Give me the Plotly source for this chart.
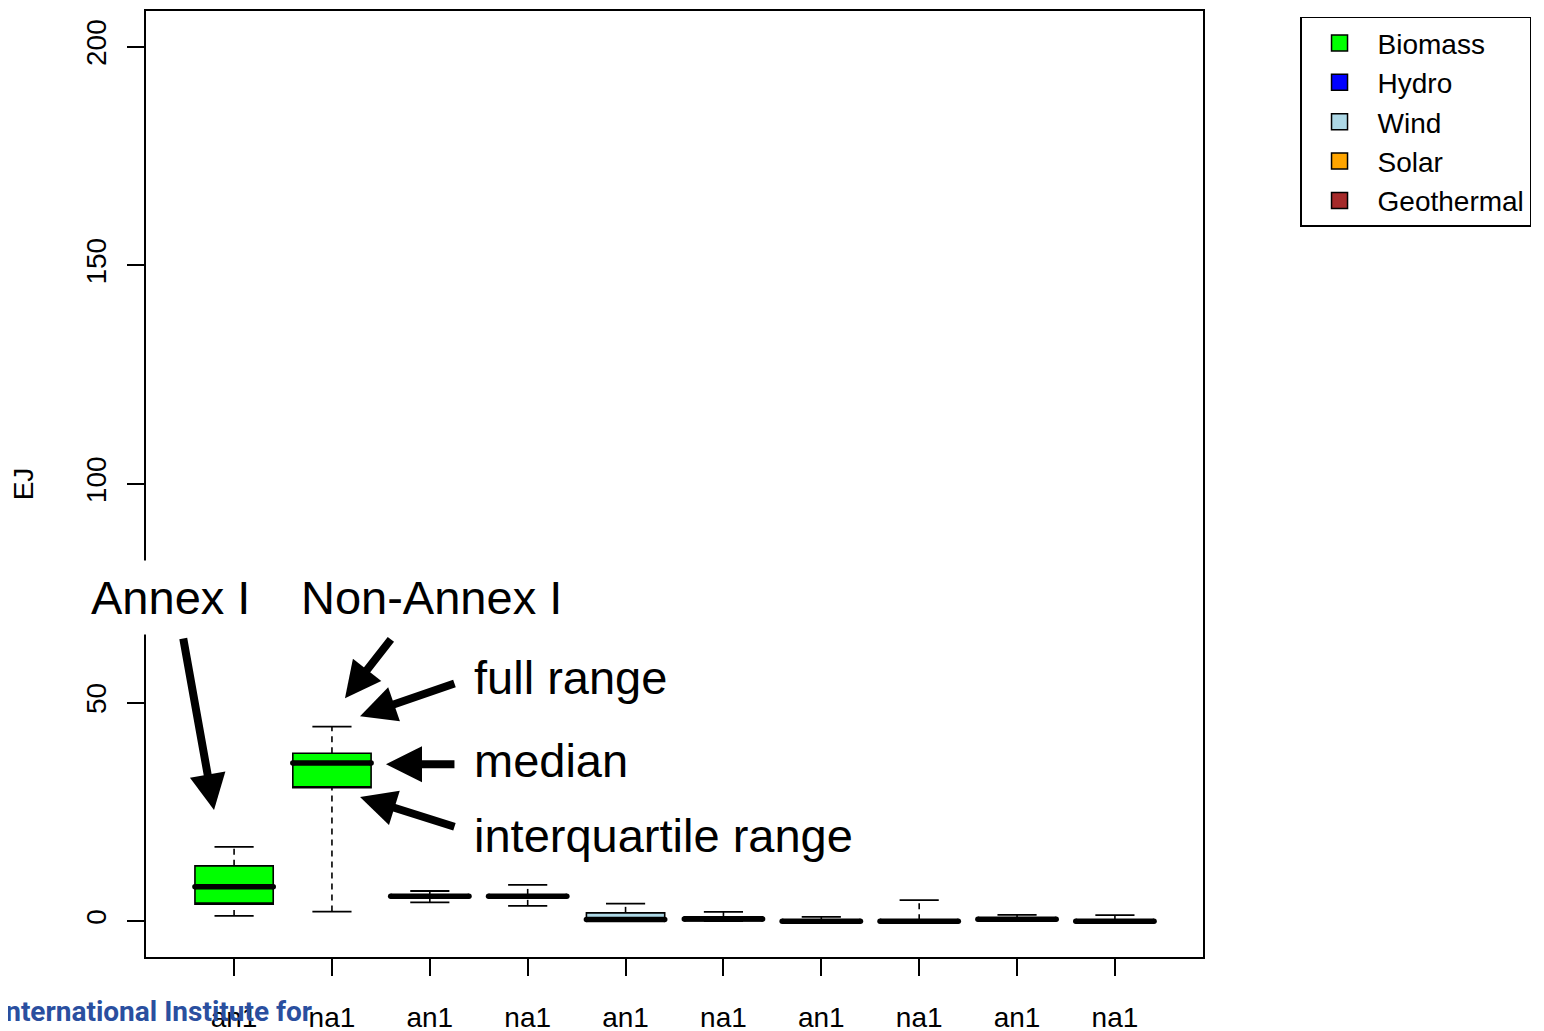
import plotly.graph_objects as go

# ---------------- data ----------------
categories = ["an1", "na1", "an1", "na1", "an1", "na1", "an1", "na1", "an1", "na1"]
series = ["Biomass", "Hydro", "Wind", "Solar", "Geothermal"]
series_colors = ["#00FF00", "#0000FF", "#ADD8E6", "#FFA500", "#A52A2A"]

lower = [1.2, 2.2, 4.3, 3.5, 0.0, 0.0, 0.0, 0.0, 0.0, 0.0]
q1 = [3.9, 30.5, 5.4, 5.4, 0.0, 0.1, 0.0, 0.0, 0.2, 0.0]
median = [7.85, 36.2, 5.7, 5.7, 0.4, 0.5, 0.0, 0.0, 0.45, 0.0]
q3 = [12.65, 38.4, 6.0, 6.0, 1.9, 1.0, 0.2, 0.2, 0.7, 0.2]
upper = [17.0, 44.5, 6.9, 8.3, 4.0, 2.1, 1.0, 4.8, 1.45, 1.4]

yticks = [0, 50, 100, 150, 200]

FONT = "Liberation Sans, Arial, Helvetica, sans-serif"
BOXW = 0.8
CAPW = 0.4

positions = list(range(1, len(categories) + 1))

fig = go.Figure()

# whiskers (dashed) and staples
wx, wy, cx, cy = [], [], [], []
for p, lo, a, b, hi in zip(positions, lower, q1, q3, upper):
    wx += [p, p, None, p, p, None]
    wy += [b, hi, None, lo, a, None]
    cx += [p - CAPW / 2, p + CAPW / 2, None, p - CAPW / 2, p + CAPW / 2, None]
    cy += [hi, hi, None, lo, lo, None]
fig.add_trace(go.Scatter(x=wx, y=wy, mode="lines", line=dict(color="black", width=1.6, dash="6px,5px"),
                         showlegend=False, hoverinfo="skip"))
fig.add_trace(go.Scatter(x=cx, y=cy, mode="lines", line=dict(color="black", width=1.8),
                         showlegend=False, hoverinfo="skip"))

# boxes, one trace per series (two boxes each)
for i, (name, col) in enumerate(zip(series, series_colors)):
    idx = [2 * i, 2 * i + 1]
    fig.add_trace(go.Box(
        x=[positions[k] for k in idx],
        q1=[q1[k] for k in idx],
        median=[q1[k] for k in idx],
        q3=[q3[k] for k in idx],
        lowerfence=[q1[k] for k in idx],
        upperfence=[q3[k] for k in idx],
        width=BOXW, whiskerwidth=0,
        fillcolor=col, line=dict(color="black", width=1.6),
        name=name, legendgroup=name, showlegend=False, boxpoints=False, hoverinfo="skip",
    ))
    # legend entry: filled square with black outline
    fig.add_trace(go.Scatter(
        x=[None], y=[None], mode="markers", name=name, legendgroup=name,
        marker=dict(symbol="square", size=20, color=col, line=dict(color="black", width=1.5)),
        showlegend=True, hoverinfo="skip",
    ))

# thick medians with rounded ends
mx, my = [], []
ex, ey = [], []
for p, m in zip(positions, median):
    mx += [p - BOXW / 2, p + BOXW / 2, None]
    my += [m, m, None]
    ex += [p - BOXW / 2, p + BOXW / 2]
    ey += [m, m]
fig.add_trace(go.Scatter(x=mx, y=my, mode="lines", line=dict(color="black", width=5.5),
                         showlegend=False, hoverinfo="skip"))
fig.add_trace(go.Scatter(x=ex, y=ey, mode="markers", marker=dict(color="black", size=5.5, line=dict(width=0)),
                         showlegend=False, hoverinfo="skip"))

# ---------------- annotations ----------------
BIG = 47
arrow_style = dict(showarrow=True, arrowhead=2, arrowsize=0.9, arrowwidth=8, arrowcolor="black",
                   xref="x", yref="y", axref="x", ayref="y", text="")
arrows = [
    ((0.795, 25.4), (0.478, 65.0)),
    ((2.133, 51.0), (2.614, 64.8)),
    ((2.287, 46.9), (3.267, 54.5)),
    ((2.552, 35.9), (3.267, 35.9)),
    ((2.287, 28.4), (3.267, 21.5)),
]
for (tx, ty), (sx, sy) in arrows:
    fig.add_annotation(x=tx, y=ty, ax=sx, ay=sy, **arrow_style)

fig.add_annotation(x=0.355, y=74.0, xref="x", yref="y", text="Annex I", showarrow=False,
                   font=dict(size=BIG, color="black", family=FONT), bgcolor="white", borderpad=10)
fig.add_annotation(x=3.012, y=74.0, xref="x", yref="y", text="Non-Annex I", showarrow=False,
                   font=dict(size=BIG, color="black", family=FONT), bgcolor="white", borderpad=2)
for txt, yy in [("full range", 55.8), ("median", 36.8), ("interquartile range", 19.5)]:
    fig.add_annotation(x=3.432, y=yy, xref="x", yref="y", text=txt, showarrow=False, xanchor="left",
                       font=dict(size=BIG, color="black", family=FONT))

# logo text fragment at the bottom left
fig.add_annotation(x=0.1585, y=-0.0575, xref="paper", yref="paper", xanchor="right", yanchor="middle",
                   text="International Institute for", showarrow=False,
                   font=dict(size=28, color="#2A4F9F", family="Roboto, Lato, sans-serif", weight=700))

# note: the page body has an 8px margin, so the plot area is placed 8px up/left of its target
fig.update_layout(
    width=1544, height=1031,
    margin=dict(l=138, r=349, t=3, b=82, autoexpand=False),
    paper_bgcolor="white", plot_bgcolor="white",
    font=dict(family=FONT, color="black", size=28),
    boxmode="overlay",
    showlegend=True,
    legend=dict(x=1.0918, y=0.994, xanchor="left", yanchor="top", xref="paper", yref="paper",
                bordercolor="black", borderwidth=1.5, bgcolor="white",
                font=dict(size=28, family=FONT, color="black"), traceorder="normal",
                itemwidth=66, itemsizing="trace", tracegroupgap=0),
    xaxis=dict(range=[0.1, 10.9], tickvals=positions, ticktext=categories, showgrid=False, zeroline=False,
               showline=True, mirror=True, linecolor="black", linewidth=1.5, automargin=False,
               ticks="outside", ticklen=17, tickwidth=1.5, tickcolor="black",
               tickfont=dict(size=28), ticklabelstandoff=18),
    yaxis=dict(range=[-8.2, 208.2], tickvals=yticks, showgrid=False, zeroline=False,
               showline=True, mirror=True, linecolor="black", linewidth=1.5, automargin=False,
               ticks="outside", ticklen=17, tickwidth=1.5, tickcolor="black",
               tickangle=-90, tickfont=dict(size=28), ticklabelstandoff=10,
               title=dict(text="EJ", font=dict(size=28), standoff=40)),
)

fig.write_html("out.html")
